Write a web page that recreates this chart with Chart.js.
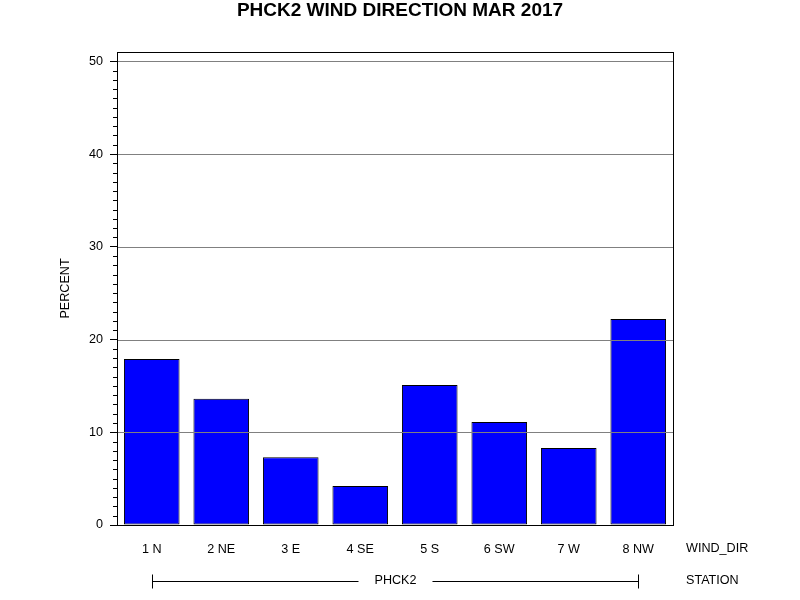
<!DOCTYPE html>
<html>
<head>
<meta charset="utf-8">
<script src="https://cdn.jsdelivr.net/npm/chart.js@4"></script>
<style>
  html, body { margin: 0; padding: 0; background: #fff; }
  canvas { display: block; }
</style>
</head>
<body>
<canvas id="chart-wind-dir" width="800" height="600"></canvas>
<script>
const windDirs = ["1 N", "2 NE", "3 E", "4 SE", "5 S", "6 SW", "7 W", "8 NW"];
const percents = [17.9, 13.6, 7.3, 4.2, 15.1, 11.1, 8.3, 22.2];
const stationName = "PHCK2";
const yTicks = [0, 10, 20, 30, 40, 50];
const chartTitle = "PHCK2 WIND DIRECTION MAR 2017";

const FONT = "'Liberation Sans', Arial, sans-serif";
const LABEL_SIZE = 12.6;

const extrasPlugin = {
    id: "extras",
    // reference lines sit on top of the bars
    afterDatasetsDraw(chart) {
        const ctx = chart.ctx;
        const area = chart.chartArea;
        const y = chart.scales.y;
        ctx.save();
        ctx.strokeStyle = "#808080";
        ctx.lineWidth = 1;
        ctx.beginPath();
        yTicks.forEach((v) => {
            if (v === 0) return;
            const py = Math.round(y.getPixelForValue(v)) + 0.5;
            ctx.moveTo(area.left, py);
            ctx.lineTo(area.right, py);
        });
        ctx.stroke();
        ctx.restore();
    },
    // title centred on the whole canvas, minor ticks, frame and the rows under the axis
    afterDraw(chart) {
        const ctx = chart.ctx;
        const area = chart.chartArea;
        const x = chart.scales.x;
        const y = chart.scales.y;
        ctx.save();
        ctx.fillStyle = "#000";
        ctx.textBaseline = "middle";
        ctx.textAlign = "center";
        ctx.font = "bold 19px " + FONT;
        ctx.fillText(chartTitle, chart.width / 2, 11);

        ctx.strokeStyle = "#000";
        ctx.lineWidth = 1;
        ctx.beginPath();
        for (let v = 1; v < 51; v++) {
            if (v % 10 === 0) continue;
            const py = Math.round(y.getPixelForValue(v)) + 0.5;
            ctx.moveTo(area.left - 4, py);
            ctx.lineTo(area.left, py);
        }
        ctx.stroke();

        ctx.strokeRect(Math.round(area.left) + 0.5, Math.round(area.top) + 0.5,
            Math.round(area.right - area.left), Math.round(area.bottom - area.top));

        ctx.font = LABEL_SIZE + "px " + FONT;
        ctx.textAlign = "left";
        ctx.fillText("WIND_DIR", area.right + 13, 549);
        ctx.fillText("STATION", area.right + 13, 581);

        const x0 = Math.round(x.getPixelForValue(0)) + 0.5;
        const x1 = Math.round(x.getPixelForValue(windDirs.length - 1)) + 0.5;
        const mid = (x0 + x1) / 2;
        const ly = 581.5;
        ctx.textAlign = "center";
        ctx.fillText(stationName, mid, 581);
        const half = ctx.measureText(stationName).width / 2 + 16;
        ctx.beginPath();
        ctx.moveTo(x0, ly - 7);
        ctx.lineTo(x0, ly + 7);
        ctx.moveTo(x0, ly);
        ctx.lineTo(mid - half, ly);
        ctx.moveTo(mid + half, ly);
        ctx.lineTo(x1, ly);
        ctx.moveTo(x1, ly - 7);
        ctx.lineTo(x1, ly + 7);
        ctx.stroke();
        ctx.restore();
    },
};

const chartWindDir = new Chart(document.getElementById("chart-wind-dir"), {
    type: "bar",
    data: {
        labels: windDirs,
        datasets: [
            {
                label: "PERCENT",
                data: percents,
                backgroundColor: "#0000ff",
                borderColor: "#000",
                borderWidth: 1,
                borderSkipped: false,
                barPercentage: 0.8,
                categoryPercentage: 1,
            },
        ],
    },
    options: {
        responsive: false,
        devicePixelRatio: 1,
        animation: false,
        layout: {
            padding: { left: 0, right: 127, top: 52, bottom: 0 },
        },
        plugins: {
            legend: { display: false },
            tooltip: { enabled: false },
            title: { display: false },
        },
        scales: {
            x: {
                grid: { display: false, drawTicks: false },
                border: { display: true, color: "#000" },
                ticks: {
                    color: "#000",
                    padding: 17,
                    font: { family: FONT, size: LABEL_SIZE },
                    maxRotation: 0,
                },
                afterFit: (scale) => {
                    scale.height = 75;
                },
            },
            y: {
                min: 0,
                max: 51,
                afterBuildTicks: (scale) => {
                    scale.ticks = yTicks.map((v) => ({ value: v }));
                },
                ticks: {
                    color: "#000",
                    padding: 7,
                    font: { family: FONT, size: LABEL_SIZE },
                },
                grid: {
                    drawOnChartArea: false,
                    color: "#000",
                    tickColor: "#000",
                    tickLength: 7,
                },
                border: { display: true, color: "#000" },
                title: {
                    display: true,
                    text: "PERCENT",
                    color: "#000",
                    font: { family: FONT, size: LABEL_SIZE },
                    padding: { top: 58, bottom: 0 },
                },
                afterFit: (scale) => {
                    scale.width = 117;
                },
            },
        },
    },
    plugins: [extrasPlugin],
});
</script>
</body>
</html>
